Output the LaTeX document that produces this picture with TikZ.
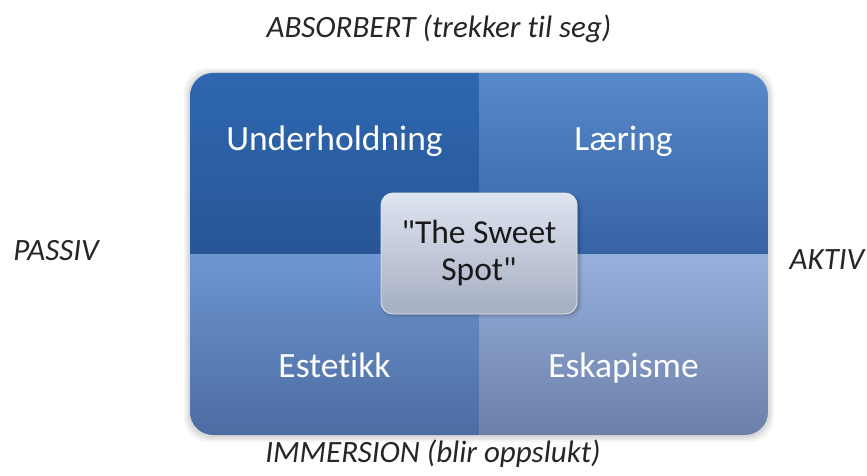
\documentclass[tikz,border=0pt]{standalone}
\usepackage{fontspec}
\setmainfont{Carlito}[Ligatures=NoCommon]
\begin{document}
\begin{tikzpicture}[x=1pt,y=1pt,
  quadlabel/.style={text=white, font=\fontsize{35.5}{40}\selectfont, anchor=base},
  sidelabel/.style={text=black!85, font=\fontsize{31}{36}\selectfont\itshape, anchor=base},
  sweetbox/.style={rounded corners=12pt, minimum width=196pt, minimum height=121pt,
    top color=sweettop, bottom color=sweetbot, draw=white!70!sweetbot, line width=0.8pt,
    align=center, text=black!90, font=\fontsize{33.5}{37}\selectfont}]
  \definecolor{tltop}{RGB}{46,103,176}
  \definecolor{tlbot}{RGB}{40,86,150}
  \definecolor{trtop}{RGB}{88,137,203}
  \definecolor{trbot}{RGB}{54,99,164}
  \definecolor{bltop}{RGB}{110,150,208}
  \definecolor{blbot}{RGB}{76,108,162}
  \definecolor{brtop}{RGB}{150,176,220}
  \definecolor{brbot}{RGB}{108,128,170}
  \definecolor{sweettop}{RGB}{222,228,240}
  \definecolor{sweetbot}{RGB}{165,174,194}

  % canvas
  \fill[white] (0,0) rectangle (867,475);
  \useasboundingbox (0,0) rectangle (867,475);

  % soft shadow round the square
  \foreach \d/\o in {6/0.04,4/0.05,2/0.06}
    \fill[black, opacity=\o, rounded corners=24pt]
      (190-\d,40-\d-1) rectangle (768+\d,402+\d-1);

  % the four quadrants, clipped to the rounded square
  \begin{scope}
    \clip[rounded corners=23pt] (190,40) rectangle (768,402);
    \shade[top color=tltop, bottom color=tlbot] (190,221) rectangle (479,402);
    \shade[top color=trtop, bottom color=trbot] (479,221) rectangle (768,402);
    \shade[top color=bltop, bottom color=blbot] (190,40) rectangle (479,221);
    \shade[top color=brtop, bottom color=brbot] (479,40) rectangle (768,221);
  \end{scope}

  % quadrant labels
  \node[quadlabel] (under) at (334.5,325) {Underholdning};
  \node[quadlabel] (laer)  at (623.5,325) {Læring};
  \node[quadlabel] (este)  at (334.5,98) {Estetikk};
  \node[quadlabel] (eska)  at (623.5,98) {Eskapisme};

  % centre box with its shadow
  \fill[black, opacity=0.10, rounded corners=13pt] (382,159) rectangle (580,280);
  \fill[black, opacity=0.06, rounded corners=14pt] (380,157) rectangle (582,282);
  \node[sweetbox] (sweet) at (479,221.5) {\textquotedbl The Sweet\\Spot\textquotedbl};

  % axis labels
  \node[sidelabel] (absorb) at (439,437) {ABSORBERT (trekker til seg)};
  \node[sidelabel] (immer)  at (433,13) {IMMERSION (blir oppslukt)};
  \node[sidelabel] (passiv) at (56,215) {PASSIV};
  \node[sidelabel] (aktiv)  at (827,206) {AKTIV};
\end{tikzpicture}
\end{document}
